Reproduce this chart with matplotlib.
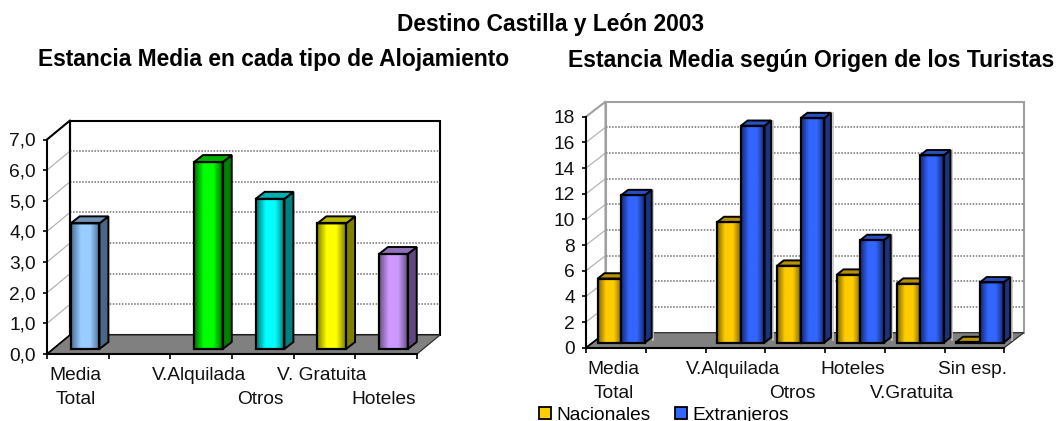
import numpy as np
import matplotlib
matplotlib.use('Agg')
import matplotlib.pyplot as plt
from matplotlib.colors import LinearSegmentedColormap
from matplotlib.patches import Patch, Polygon

W, H = 1062, 421

aloj_labels = ['Media\nTotal', '', 'V.Alquilada', '\nOtros', 'V. Gratuita', '\nHoteles']
aloj_values = [4.1, np.nan, 6.1, 4.9, 4.1, 3.1]
aloj_ticks = [0, 1, 2, 3, 4, 5, 6, 7]
aloj_ticklabels = ['0,0', '1,0', '2,0', '3,0', '4,0', '5,0', '6,0', '7,0']

origen_labels = ['Media\nTotal', '', 'V.Alquilada', '\nOtros', 'Hoteles', '\nV.Gratuita', 'Sin esp.']
nacionales = [5.0, np.nan, 9.4, 6.0, 5.3, 4.6, 0.05]
extranjeros = [11.5, np.nan, 16.9, 17.5, 8.0, 14.6, 4.7]
origen_ticks = [0, 2, 4, 6, 8, 10, 12, 14, 16, 18]

# (centre, edge, side, top)
aloj_colors = [('#99CCFF', '#4A6E94', '#4A6585', '#6F93BA'), None,
               ('#00FF00', '#007000', '#008000', '#00B000'),
               ('#00FFFF', '#007070', '#008080', '#00B0B0'),
               ('#FFFF00', '#807F00', '#808000', '#B8B800'),
               ('#CC99FF', '#66507F', '#5F4880', '#9070B8')]
gold = ('#FFCC00', '#806600', '#806600', '#B89000')
blue = ('#3366FF', '#14286E', '#1A3380', '#2850C0')


def px_axes(fig, x0, x1, y_bottom, y_top):
    return fig.add_axes([x0 / W, 1 - y_bottom / H, (x1 - x0) / W, (y_bottom - y_top) / H])


def draw_bar(ax, rect, colors, ddx, ddy, z, glow):
    x, y, w, h = rect.get_x(), rect.get_y(), rect.get_width(), rect.get_height()
    center, edge, side, top = colors
    cmap = LinearSegmentedColormap.from_list('b', [edge, center, center, edge])
    ax.imshow(np.linspace(0, 1, 64).reshape(1, -1), extent=(x, x + w, y, y + h), cmap=cmap,
              aspect='auto', zorder=z, clip_on=False)
    rect.set_zorder(z + 0.001)
    sv = [(x + w, y), (x + w + ddx, y + ddy), (x + w + ddx, y + h + ddy), (x + w, y + h)]
    tv = [(x, y + h), (x + w, y + h), (x + w + ddx, y + h + ddy), (x + ddx, y + h + ddy)]
    lw = 1.4
    ax.add_patch(Polygon(sv, fc=side, ec='black', lw=lw, zorder=z, clip_on=False))
    ax.add_patch(Polygon(tv, fc=top, ec='black', lw=lw, zorder=z, clip_on=False))
    if glow:
        gx = x + w + ddx * 1.25
        ax.plot([gx, gx], [y + ddy * 0.6, y + h + ddy], color='#c4c4c4', lw=1.2, zorder=z - 0.001,
                clip_on=False)


def panel(ax, labels, ticks, ticklabels, ymax, depth, bar_depth, shift, border, border_lw):
    n = len(labels)
    ax.set_xlim(0, n)
    ax.set_ylim(0, ymax)
    ax.patch.set_visible(False)
    bb = ax.get_position()
    ux = bb.width * W / n
    uy = bb.height * H / ymax
    dx, dy = depth[0] / ux, depth[1] / uy

    ax.add_patch(Polygon([(dx, dy), (n + dx, dy), (n + dx, ymax + dy), (dx, ymax + dy)],
                         fc='white', ec=border, lw=border_lw, clip_on=False, zorder=1))
    ax.add_patch(Polygon([(0, 0), (n, 0), (n + dx, dy), (dx, dy)],
                         fc='#808080', ec='#303030', lw=0.9, clip_on=False, zorder=1.2))
    ax.plot([0, dx, dx], [ymax, ymax + dy, dy], color=border, lw=border_lw, clip_on=False, zorder=1.3)
    ax.plot([0, dx], [0, dy], color='black', lw=1.2, clip_on=False, zorder=1.3)
    for t in ticks[1:-1]:
        ax.plot([dx, n + dx], [t + dy, t + dy], color='#707070', lw=1.1, ls=(0, (1, 1)), zorder=1.1,
                clip_on=False)
        ax.plot([0, dx], [t, t + dy], color='#b4b4b4', lw=0.9, zorder=1.1, clip_on=False)

    for s in ['top', 'right']:
        ax.spines[s].set_visible(False)
    for s in ['left', 'bottom']:
        ax.spines[s].set_linewidth(1.5)
        ax.spines[s].set_zorder(2)

    ax.set_yticks(ticks)
    ax.set_yticklabels(ticklabels, fontsize=13.8, color='#111111')
    ax.tick_params(axis='y', length=3, width=1.2, pad=5)
    ax.set_xticks(np.arange(n + 1))
    ax.set_xticklabels([])
    ax.tick_params(axis='x', which='major', length=3.5, width=1.2)
    ax.set_xticks(np.arange(n) + 0.5 - 0.04, minor=True)
    ax.set_xticklabels(labels, minor=True, fontsize=13.8, linespacing=1.55, color='#111111')
    ax.tick_params(axis='x', which='minor', length=0, pad=9.5)
    return (bar_depth[0] / ux, bar_depth[1] / uy, shift[0] / ux, shift[1] / uy)


fig = plt.figure(figsize=(W / 100, H / 100), dpi=100)
plt.rcParams['font.family'] = ['Liberation Sans', 'DejaVu Sans']

# left chart
ax1 = px_axes(fig, 47, 417, 354, 139.5)
ddx, ddy, sx, sy = panel(ax1, aloj_labels, aloj_ticks, aloj_ticklabels, 7, (23, 19), (9, 7), (7.2, 5),
                         'black', 1.5)
x1 = np.arange(len(aloj_labels))
bar_w = 0.466
rects = ax1.bar(x1 + 0.5 + sx, aloj_values, bar_w, bottom=sy, fc='none', ec='black', lw=1.6, clip_on=False)
for i, r in enumerate(rects):
    if not np.isnan(aloj_values[i]):
        draw_bar(ax1, r, aloj_colors[i], ddx, ddy, 3 + i * 0.1, False)

# right chart
ax2 = px_axes(fig, 586, 1004.3, 347.7, 116.7)
ddx, ddy, sx, sy = panel(ax2, origen_labels, origen_ticks, [str(t) for t in origen_ticks], 18, (19.5, 15),
                         (6.7, 5.3), (5.5, 5), '#a0a0a0', 1.5)
x2 = np.arange(len(origen_labels))
bar_w = 0.395
rn = ax2.bar(x2 + 0.5 + sx - bar_w / 2, nacionales, bar_w, bottom=sy, fc='none', ec='black', lw=1.6, clip_on=False)
re = ax2.bar(x2 + 0.5 + sx + bar_w / 2, extranjeros, bar_w, bottom=sy, fc='none', ec='black', lw=1.6, clip_on=False)
for i in x2:
    if not np.isnan(nacionales[i]):
        draw_bar(ax2, rn[i], gold, ddx, ddy, 3 + i * 0.1, False)
        draw_bar(ax2, re[i], blue, ddx, ddy, 3.05 + i * 0.1, True)

fig.text(551 / W, 1 - 24.5 / H, 'Destino Castilla y León 2003', ha='center', va='center', fontsize=16.4, fontweight='bold')
fig.text(274 / W, 1 - 59.5 / H, 'Estancia Media en cada tipo de Alojamiento', ha='center', va='center',
         fontsize=16.4, fontweight='bold')
fig.text(811 / W, 1 - 61 / H, 'Estancia Media según Origen de los Turistas', ha='center', va='center',
         fontsize=16.6, fontweight='bold')

handles = [Patch(fc=gold[0], ec='black', lw=1.3), Patch(fc=blue[0], ec='black', lw=1.3)]
fig.legend(handles, ['Nacionales', 'Extranjeros'], loc='lower left', bbox_to_anchor=(539 / W, -3 / H),
           ncol=2, frameon=False, fontsize=13.8, borderpad=0, borderaxespad=0, handlelength=0.6,
           handleheight=0.6, handletextpad=0.33, columnspacing=1.25)

fig.savefig('out.png', dpi=100)
